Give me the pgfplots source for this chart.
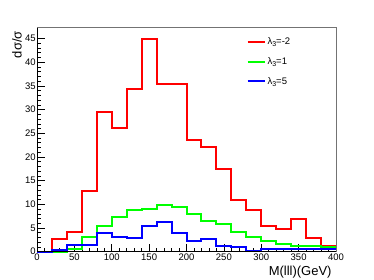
\documentclass[border=0pt]{standalone}
\usepackage{fontspec}
\setmainfont{Liberation Sans}
\usepackage{pgfplots}
\pgfplotsset{compat=1.18}
\begin{document}
\begin{tikzpicture}
\path[use as bounding box] (0,0) rectangle (374pt,280pt);
\begin{axis}[
  at={(37pt,28.3pt)}, anchor=south west,
  scale only axis, width=299pt, height=224pt,
  xmin=0, xmax=400, ymin=0, ymax=47.3,
  clip=false,
  xtick={0,50,...,400}, ytick={0,5,...,45},
  minor x tick num=4, minor y tick num=4,
  tick align=inside, xtick pos=bottom, ytick pos=left,
  major tick length=8pt, minor tick length=4pt,
  tick style={black, line width=0.6pt},
  /pgf/number format/assume math mode=true,
  ticklabel style={font=\fontsize{9.5}{11}\selectfont, inner sep=1.2pt},
  xticklabel style={yshift=-1pt},
  xlabel={M(lll)(GeV)},
  ylabel={dσ/σ},
  label style={font=\fontsize{13}{15}\selectfont},
  xlabel style={at={(axis description cs:0.997,-0.0906)}, anchor=east},
  ylabel style={at={(axis description cs:-0.0669,1)}, anchor=east},
  legend style={draw=white, fill=white, at={(0.69,0.975)}, anchor=north west,
    font=\fontsize{9.5}{11}\selectfont, row sep=7.5pt},
  legend cell align=left,
]
\addplot[const plot, no marks, color=red, line width=2pt] coordinates {
(0,0) (20,2.7) (40,4.1) (60,12.8) (80,29.5) (100,26.2) (120,34.3) (140,44.9)
(160,35.5) (180,35.5) (200,23.6) (220,22.2) (240,17.4) (260,10.9) (280,8.8)
(300,5.4) (320,4.8) (340,6.8) (360,2.8) (380,1.3) (400,1.3)};
\addlegendentry{λ\raisebox{-0.45ex}{\scriptsize 3}=-2}
\addplot[const plot, no marks, color=green, line width=2pt] coordinates {
(0,0) (20,0) (40,0.5) (60,3.0) (80,5.5) (100,7.4) (120,8.8) (140,9.1)
(160,9.9) (180,9.5) (200,8.0) (220,6.5) (240,5.8) (260,4.1) (280,3.0)
(300,2.3) (320,1.6) (340,1.3) (360,1.2) (380,1.0) (400,1.0)};
\addlegendentry{λ\raisebox{-0.45ex}{\scriptsize 3}=1}
\addplot[const plot, no marks, color=blue, line width=2pt] coordinates {
(0,0) (20,0.35) (40,1.5) (60,1.5) (80,4.0) (100,3.2) (120,2.9) (140,5.5)
(160,6.3) (180,3.9) (200,2.3) (220,2.6) (240,1.3) (260,0.9) (280,0.2)
(300,0.6) (320,0.6) (340,0.6) (360,0.6) (380,0.5) (400,0.5)};
\addlegendentry{λ\raisebox{-0.45ex}{\scriptsize 3}=5}
\draw[black!55, line width=0.8pt] (rel axis cs:0,1) -- (rel axis cs:1,1) -- (rel axis cs:1,0);
\draw[black, line width=0.8pt] (rel axis cs:0,1) -- (rel axis cs:0,0) -- (rel axis cs:1,0);
\end{axis}
\end{tikzpicture}
\end{document}
